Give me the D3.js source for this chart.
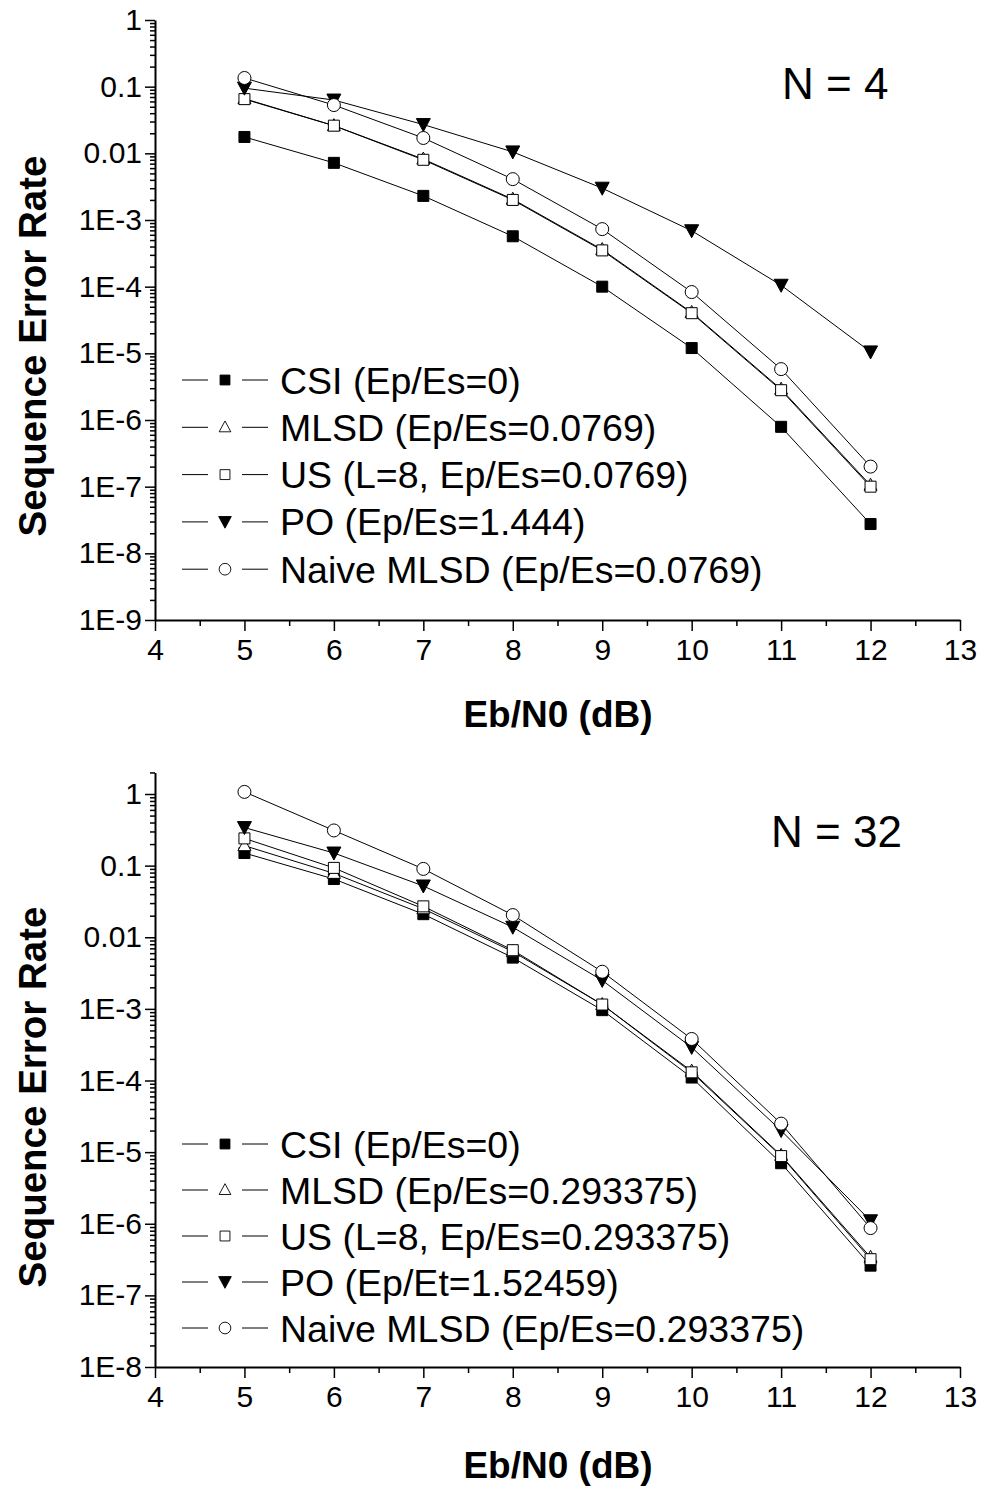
<!DOCTYPE html>
<html>
<head>
<meta charset="utf-8">
<script src="https://cdn.jsdelivr.net/npm/d3@7"></script>
<style>
  body { margin: 0; background: #fff; }
  svg { display: block; font-family: "Liberation Sans", Arial, sans-serif; }
</style>
</head>
<body>
<div id="chart"></div>
<script>
// Eb/N0 values (dB)
const ebn0 = [5, 6, 7, 8, 9, 10, 11, 12];

// N = 4 panel
const csi4   = [0.0176, 0.0072, 0.0023, 5.7e-4, 1.0e-4, 1.2e-5, 7.9e-7, 2.75e-8];
const mlsd4  = [0.066, 0.026, 8.2e-3, 2.05e-3, 3.6e-4, 4.1e-5, 2.9e-6, 1.05e-7];
const us4    = [0.065, 0.026, 8.0e-3, 2.0e-3, 3.5e-4, 4.0e-5, 2.8e-6, 1.0e-7];
const po4    = [0.095, 0.063, 0.027, 0.0105, 3.0e-3, 6.9e-4, 1.05e-4, 1.05e-5];
const naive4 = [0.135, 0.053, 0.017, 4.1e-3, 7.3e-4, 8.3e-5, 5.8e-6, 2.0e-7];
const labels4 = ['CSI (Ep/Es=0)', 'MLSD (Ep/Es=0.0769)', 'US (L=8, Ep/Es=0.0769)',
  'PO (Ep/Es=1.444)', 'Naive MLSD (Ep/Es=0.0769)'];

// N = 32 panel
const csi32   = [0.15, 0.065, 0.021, 5.2e-3, 9.6e-4, 1.1e-4, 7.0e-6, 2.6e-7];
const mlsd32  = [0.19, 0.078, 0.025, 6.3e-3, 1.15e-3, 1.35e-4, 9.0e-6, 3.4e-7];
const us32    = [0.24, 0.093, 0.027, 6.6e-3, 1.15e-3, 1.3e-4, 8.8e-6, 3.2e-7];
const po32    = [0.34, 0.15, 0.052, 0.0138, 2.5e-3, 2.9e-4, 2.0e-5, 1.1e-6];
const naive32 = [1.07, 0.31, 0.09, 0.0204, 3.3e-3, 3.8e-4, 2.5e-5, 8.7e-7];
const labels32 = ['CSI (Ep/Es=0)', 'MLSD (Ep/Es=0.293375)', 'US (L=8, Ep/Es=0.293375)',
  'PO (Ep/Et=1.52459)', 'Naive MLSD (Ep/Es=0.293375)'];

const markers = ['square-filled', 'triangle-up', 'square', 'triangle-down', 'circle'];

const xTicks = [4, 5, 6, 7, 8, 9, 10, 11, 12, 13];
const yTicks4 = [1, 0.1, 0.01, 1e-3, 1e-4, 1e-5, 1e-6, 1e-7, 1e-8, 1e-9];
const yTicks32 = [1, 0.1, 0.01, 1e-3, 1e-4, 1e-5, 1e-6, 1e-7, 1e-8];

const width = 981, height = 1488;
const svg = d3.select('#chart').append('svg')
  .attr('width', width).attr('height', height);

function fmtY(v) {
  if (v >= 0.01) return String(+v.toPrecision(1));
  return '1E' + Math.round(Math.log10(v));
}

function markerPath(type, x, y) {
  if (type === 'square' || type === 'square-filled') {
    const s = 5.5;
    return `M${x - s},${y - s}h${2 * s}v${2 * s}h${-2 * s}Z`;
  }
  if (type === 'triangle-up') {
    return `M${x},${y - 7}L${x + 6.5},${y + 5}L${x - 6.5},${y + 5}Z`;
  }
  if (type === 'triangle-down') {
    return `M${x - 7},${y - 6}L${x + 7},${y - 6}L${x},${y + 7}Z`;
  }
  const r = 6.5;
  return `M${x - r},${y}a${r},${r} 0 1,0 ${2 * r},0a${r},${r} 0 1,0 ${-2 * r},0`;
}
const isFilled = t => t === 'square-filled' || t === 'triangle-down';

function drawPanel(cfg) {
  const x = d3.scaleLinear().domain([4, 13]).range([155, 960]);
  const y = d3.scaleLog().domain(cfg.yDomain).range([cfg.bottom, cfg.top]);
  const g = svg.append('g');

  // minor ticks
  const minorX = d3.range(4.5, 13, 1);
  g.append('g').attr('transform', `translate(0,${cfg.bottom})`)
    .call(d3.axisBottom(x).tickValues(minorX).tickSize(6).tickFormat(''))
    .call(a => a.select('.domain').remove());
  const minorY = [];
  const lo = Math.round(Math.log10(cfg.yDomain[0])), hi = Math.ceil(Math.log10(cfg.yDomain[1]));
  for (let e = lo; e < hi; e++) {
    for (let m = 2; m <= 9; m++) {
      const v = m * Math.pow(10, e);
      if (v <= cfg.yDomain[1] * 1.0001) minorY.push(v);
    }
  }
  g.append('g').attr('transform', 'translate(155,0)')
    .call(d3.axisLeft(y).tickValues(minorY).tickSize(5).tickFormat(''))
    .call(a => a.select('.domain').remove());

  // major axes
  const xAxis = g.append('g').attr('transform', `translate(0,${cfg.bottom})`)
    .call(d3.axisBottom(x).tickValues(xTicks).tickSize(11).tickSizeOuter(0).tickPadding(6).tickFormat(d3.format('d')));
  const yAxis = g.append('g').attr('transform', 'translate(155,0)')
    .call(d3.axisLeft(y).tickValues(cfg.yTicks).tickSize(10).tickSizeOuter(0).tickPadding(3).tickFormat(fmtY));
  [xAxis, yAxis].forEach(a => {
    a.selectAll('text').attr('font-size', 30).attr('fill', '#000')
      .attr('font-family', '"Liberation Sans", Arial, sans-serif');
    a.select('.domain').attr('stroke-width', 2);
  });
  xAxis.selectAll('text').attr('dy', '0.78em');
  g.selectAll('.tick line').attr('stroke', '#000').attr('stroke-width', 1.5);

  // lines and markers
  const line = d3.line().x((d, i) => x(ebn0[i])).y(d => y(d));
  cfg.series.forEach((vals, k) => {
    g.append('path').datum(vals).attr('d', line)
      .attr('fill', 'none').attr('stroke', '#000').attr('stroke-width', 1);
  });
  cfg.series.forEach((vals, k) => {
    const t = markers[k];
    g.selectAll(null).data(vals).join('path')
      .attr('d', (d, i) => markerPath(t, x(ebn0[i]), y(d)))
      .attr('fill', isFilled(t) ? '#000' : '#fff')
      .attr('stroke', '#000').attr('stroke-width', 1);
  });

  // legend
  cfg.labels.forEach((lab, k) => {
    const ly = cfg.legendTop + k * cfg.legendStep;
    const lg = g.append('g');
    lg.append('line').attr('x1', 182).attr('x2', 208).attr('y1', ly).attr('y2', ly)
      .attr('stroke', '#000').attr('stroke-width', 1);
    lg.append('line').attr('x1', 242).attr('x2', 268).attr('y1', ly).attr('y2', ly)
      .attr('stroke', '#000').attr('stroke-width', 1);
    const t = markers[k];
    lg.append('path').attr('d', markerPath(t, 225, ly))
      .attr('transform', `translate(${225 * 0.1},${ly * 0.1}) scale(0.9)`)
      .attr('fill', isFilled(t) ? '#000' : '#fff')
      .attr('stroke', '#000').attr('stroke-width', 1);
    lg.append('text').attr('x', 280).attr('y', ly).attr('dy', '0.36em')
      .attr('font-size', 37.5).text(lab);
  });

  // panel label
  g.append('text').attr('x', cfg.nx).attr('y', cfg.ny)
    .attr('font-size', 44).text(cfg.nLabel);

  // axis titles
  g.append('text').attr('x', 558).attr('y', cfg.xTitleY).attr('text-anchor', 'middle')
    .attr('font-size', 37).attr('font-weight', 'bold').text('Eb/N0 (dB)');
  g.append('text').attr('transform', `translate(46,${cfg.yTitleY}) rotate(-90)`)
    .attr('text-anchor', 'middle').attr('font-size', 38.5).attr('font-weight', 'bold')
    .text('Sequence Error Rate');
}

drawPanel({
  top: 20, bottom: 620, yDomain: [1e-9, 1], yTicks: yTicks4,
  series: [csi4, mlsd4, us4, po4, naive4], labels: labels4,
  legendTop: 380, legendStep: 47.3,
  nLabel: 'N = 4', nx: 782, ny: 99,
  xTitleY: 727, yTitleY: 346
});

drawPanel({
  top: 794 - 71.6 * Math.log10(2), bottom: 1367, yDomain: [1e-8, 2], yTicks: yTicks32,
  series: [csi32, mlsd32, us32, po32, naive32], labels: labels32,
  legendTop: 1144, legendStep: 46,
  nLabel: 'N = 32', nx: 771, ny: 847,
  xTitleY: 1478, yTitleY: 1097
});
</script>
</body>
</html>
